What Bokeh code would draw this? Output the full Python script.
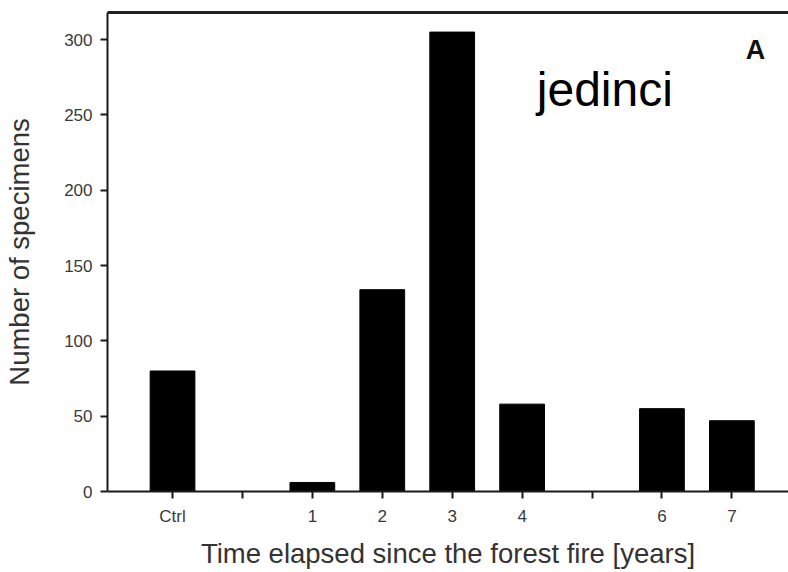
from bokeh.plotting import figure
from bokeh.models import FixedTicker, LinearAxis, Label, Range1d
from bokeh.embed import file_html
from bokeh.resources import INLINE

categories = ["Ctrl", "", "1", "2", "3", "4", "", "6", "7"]
counts = [80, 0, 6, 134, 305, 58, 0, 55, 47]
y_ticks = [0, 50, 100, 150, 200, 250, 300]

positions = list(range(len(categories)))
bar_x = [p for p, c in zip(positions, categories) if c != ""]
bar_top = [v for v, c in zip(counts, categories) if c != ""]

FONT = "Liberation Sans"

p = figure(width=788, height=572, output_backend="svg", toolbar_location=None,
           x_range=Range1d(-0.93, 8.81), y_range=Range1d(0, 318),
           min_border_left=107, min_border_right=0, min_border_top=12, min_border_bottom=81)
p.outline_line_color = None
p.xgrid.visible = False
p.ygrid.visible = False
p.background_fill_color = "white"
p.border_fill_color = "white"

p.vbar(x=bar_x, top=bar_top, width=0.64, bottom=0, fill_color="black", line_color="black")

xa = p.xaxis[0]
xa.ticker = FixedTicker(ticks=positions)
xa.major_label_overrides = {i: (c if c else " ") for i, c in enumerate(categories)}
xa.axis_label = "Time elapsed since the forest fire [years]"

ya = p.yaxis[0]
ya.ticker = FixedTicker(ticks=y_ticks)
ya.axis_label = "Number of specimens"

for ax in (xa, ya):
    ax.axis_line_color = "#1a1a1a"
    ax.axis_line_width = 2
    ax.major_tick_line_color = "#1a1a1a"
    ax.major_tick_line_width = 2
    ax.major_tick_out = 7
    ax.major_tick_in = 0
    ax.minor_tick_line_color = None
    ax.major_label_text_font = FONT
    ax.major_label_text_font_size = "17px"
    ax.major_label_text_color = "#3a3a3a"
    ax.major_label_standoff = 8
    ax.axis_label_text_font = FONT
    ax.axis_label_text_font_style = "normal"
    ax.axis_label_text_color = "#333333"

xa.axis_label_text_font_size = "27.5px"
xa.axis_label_standoff = 9
ya.axis_label_text_font_size = "27.5px"
ya.axis_label_standoff = 26

top = LinearAxis(ticker=FixedTicker(ticks=[]), major_label_text_font_size="0px",
                 major_tick_out=0, major_tick_in=0, minor_tick_line_color=None,
                 axis_line_width=3, axis_line_color="#222222")
p.add_layout(top, "above")

p.add_layout(Label(x=5.21, y=267, text="jedinci", text_font=FONT, text_font_size="48px",
                   text_color="black", text_baseline="alphabetic"))
p.add_layout(Label(x=8.2, y=293, text="A", text_font=FONT, text_font_size="27px",
                   text_font_style="bold", text_color="#111111", text_baseline="alphabetic"))

open("out.html", "w").write(file_html(p, INLINE))
